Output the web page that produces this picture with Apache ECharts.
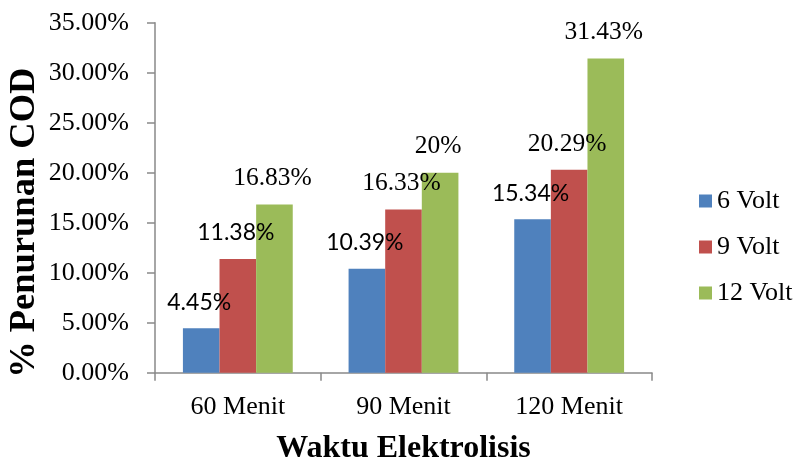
<!DOCTYPE html>
<html>
<head>
<meta charset="utf-8">
<script src="https://cdn.jsdelivr.net/npm/echarts@6/dist/echarts.min.js"></script>
<style>
html,body{margin:0;padding:0;background:#fff;}
#chart{width:798px;height:459px;}
</style>
</head>
<body>
<div id="chart"></div>
<script>
const categories = ['60 Menit', '90 Menit', '120 Menit'];
const seriesNames = ['6 Volt', '9 Volt', '12 Volt'];
const volt6 = [4.45, 10.39, 15.34];
const volt9 = [11.38, 16.33, 20.29];
const volt12 = [16.83, 20, 31.43];
const yTicks = [0, 5, 10, 15, 20, 25, 30, 35];

const colors = ['#4F81BD', '#C0504D', '#9BBB59'];
const serifFont = 'Liberation Serif';
const sansFont = 'Lato';

// which value labels are drawn in a sans font (as in the reference)
const sansLabel = [[true, true, true], [true, false, false], [false, false, false]];

function buildSeries(name, values, idx) {
  return {
    name: name,
    type: 'bar',
    barGap: '0%',
    barCategoryGap: '33.7%',
    itemStyle: { color: colors[idx] },
    label: {
      show: true,
      position: 'top',
      distance: 13,
      offset: [-2, 0],
      color: '#000',
      formatter: p => (sansLabel[idx][p.dataIndex] ? '{s|' : '{r|') + p.value + '%}',
      rich: {
        s: { fontFamily: sansFont, fontSize: 23, lineHeight: 26, color: '#000' },
        r: { fontFamily: serifFont, fontSize: 25.5, lineHeight: 26, color: '#000' }
      }
    },
    data: values
  };
}

const chart = echarts.init(document.getElementById('chart'), null, { renderer: 'canvas' });
chart.setOption({
  animation: false,
  backgroundColor: '#fff',
  grid: { left: 155, right: 146, top: 22.7, bottom: 86.3, outerBoundsMode: 'none', containLabel: false },
  legend: {
    orient: 'vertical',
    left: 694,
    top: 183,
    itemWidth: 13,
    itemHeight: 13,
    itemGap: 20,
    icon: 'rect',
    data: seriesNames,
    textStyle: { fontFamily: serifFont, fontSize: 26, lineHeight: 26, color: '#000' }
  },
  xAxis: {
    type: 'category',
    data: categories,
    name: 'Waktu Elektrolisis',
    nameLocation: 'middle',
    nameGap: 60,
    nameMoveOverlap: false,
    nameTextStyle: { fontFamily: serifFont, fontSize: 32, fontWeight: 'bold', color: '#000', lineHeight: 32 },
    axisLine: { lineStyle: { color: '#898989', width: 1.5 } },
    axisTick: { show: true, length: 8, lineStyle: { color: '#898989', width: 1.5 } },
    axisLabel: { fontFamily: serifFont, fontSize: 26, lineHeight: 26, color: '#000', margin: 21 }
  },
  yAxis: {
    type: 'value',
    min: yTicks[0],
    max: yTicks[yTicks.length - 1],
    interval: yTicks[1] - yTicks[0],
    name: '% Penurunan COD',
    nameLocation: 'middle',
    nameGap: 112,
    nameMoveOverlap: false,
    nameTextStyle: { fontFamily: serifFont, fontSize: 36.5, fontWeight: 'bold', color: '#000', lineHeight: 36, padding: [0, 50, 0, 0] },
    axisLine: { show: true, lineStyle: { color: '#898989', width: 1.5 } },
    axisTick: { show: true, length: 8, lineStyle: { color: '#898989', width: 1.5 } },
    splitLine: { show: false },
    axisLabel: {
      fontFamily: serifFont, fontSize: 26, color: '#000', margin: 26,
      formatter: v => v.toFixed(2) + '%'
    }
  },
  series: [
    buildSeries(seriesNames[0], volt6, 0),
    buildSeries(seriesNames[1], volt9, 1),
    buildSeries(seriesNames[2], volt12, 2)
  ]
});
</script>
</body>
</html>
